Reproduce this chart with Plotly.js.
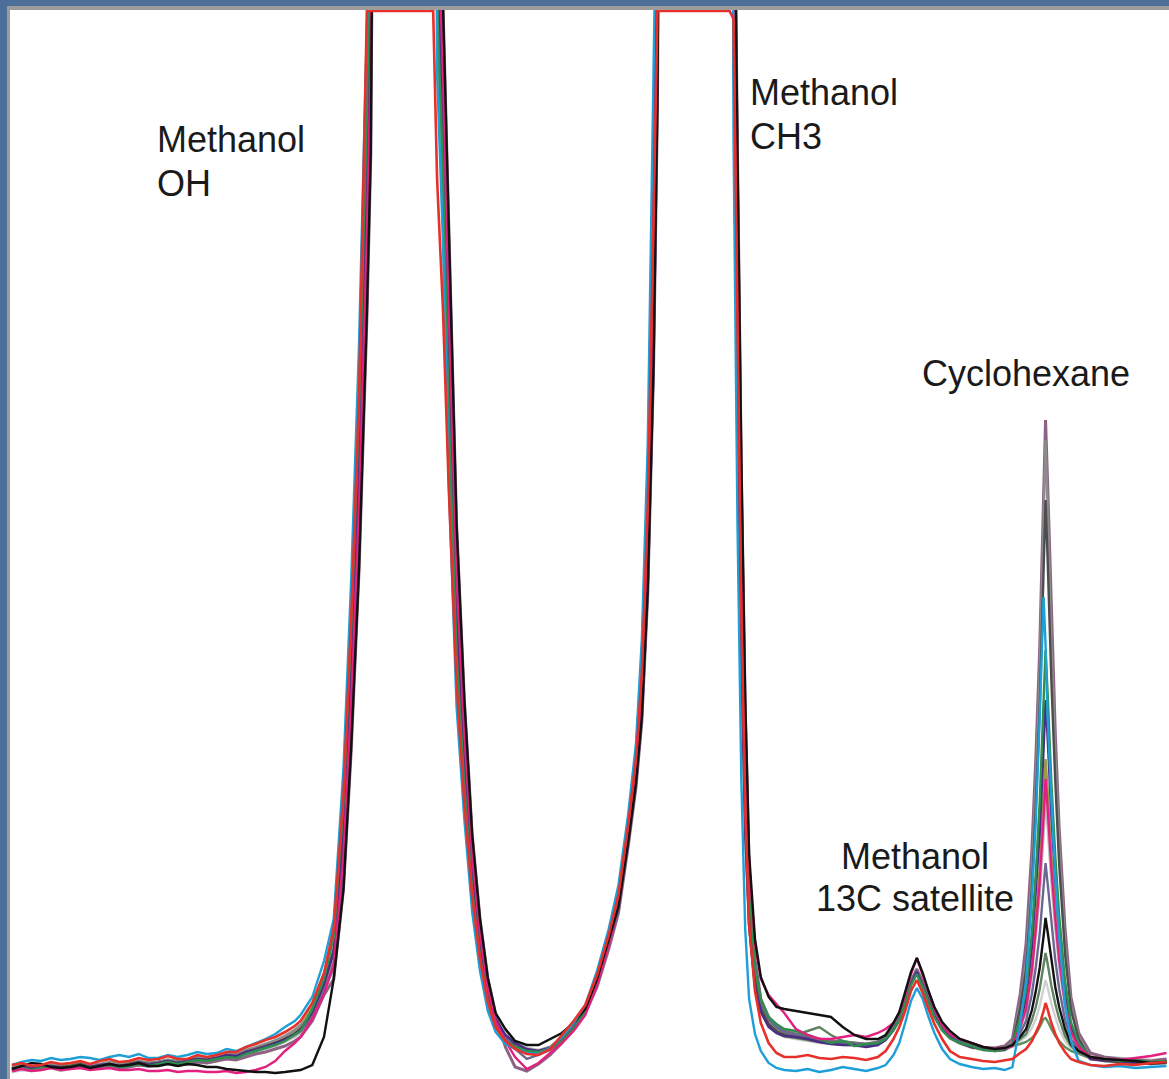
<!DOCTYPE html>
<html><head><meta charset="utf-8">
<script src="https://cdn.plot.ly/plotly-3.0.1.min.js"></script>
<style>html,body{margin:0;padding:0;background:#4b6f99;} #chart{width:1169px;height:1079px;}</style>
</head><body><div id="chart"></div>
<script>
// chemical shift axis (ppm), shared by all spectra
const ppm = [6.80,6.75,6.70,6.65,6.60,6.55,6.50,6.45,6.40,6.35,6.30,6.25,6.20,6.15,6.10,6.05,6.00,5.95,5.90,5.85,5.80,5.75,5.70,5.65,5.60,5.55,5.50,5.45,5.40,5.35,5.32,
 5.26,5.20,5.15,5.10,5.06,5.02,4.98,4.96,
 4.85,4.70,4.64,
 4.62,4.59,4.56,4.52,4.48,4.44,4.40,4.36,4.32,4.27,
 4.22,4.16,4.10,4.04,3.98,3.92,3.86,
 3.80,3.74,3.69,3.64,3.60,3.57,3.54,3.51,3.49,
 3.40,3.25,3.12,
 3.10,3.08,3.06,3.04,3.02,2.99,2.96,2.92,2.88,2.84,
 2.78,2.72,2.66,2.60,2.54,2.48,2.42,2.36,2.32,
 2.28,2.25,2.22,2.19,2.16,2.13,2.10,2.07,2.03,1.99,
 1.94,1.88,1.82,1.76,1.71,1.67,
 1.63,1.60,1.57,1.55,1.53,1.51,1.50,1.49,1.47,1.45,1.43,1.40,1.37,1.33,
 1.27,1.20,1.12,1.04,0.96,0.88];

// intensities of each spectrum (arbitrary units)
const paleGray = [13,15,12,14,16,13,15,17,14,15,18,16,17,19,16,18,20,18,20,23,21,24,26,24,30,31,36,38,44,50,55, 73,104,152,294,478,704,1012,1216, 4000,4000,2500, 1040,872,630,398,276,178,115,73,50,37, 30,26,26,30,39,52,69, 103,144,186,258,326,420,597,889,1190, 4000,4000,2500, 1030,678,418,245,152,92,67,52,46,42, 40,38,36,35,34,33,32,34,39, 48,58,74,93,104,91,75,61,48,40, 35,31,29,28,29,32, 38,42,51,60,73,89,99,92,75,62,50,38,31,26, 20,18,17,16,15,16];
const lightGray = [7,9,8,9,11,8,10,12,10,11,13,11,12,14,12,13,15,13,15,17,16,18,21,20,24,27,30,33,37,42,46, 63,89,110,209,358,544,807,976, 4000,4000,2500, 1215,1042,805,528,361,233,152,96,62,47, 37,31,29,32,40,52,68, 94,132,168,235,294,360,486,712,980, 4000,4000,2500, 1300,924,604,365,207,117,77,58,50,46, 44,42,40,38,37,36,35,37,43, 52,62,77,97,109,95,79,65,52,44, 39,35,32,31,32,36, 50,67,103,140,184,244,279,254,196,150,112,71,45,31, 24,22,21,20,19,20];
const mauve = [8,11,9,10,12,10,11,13,11,12,14,11,12,14,13,14,16,14,15,17,16,18,20,19,22,25,27,30,33,38,42, 58,84,100,190,330,510,760,925, 4000,4000,2600, 1250,1076,840,554,378,244,160,101,65,32, 12,8,15,24,36,50,66, 92,130,166,233,292,358,484,710,975, 4000,4000,2600, 1300,930,610,370,212,120,80,62,52,48, 45,42,40,38,37,36,35,37,42, 52,62,78,98,110,97,80,66,52,44, 38,34,31,31,33,40, 85,135,230,320,430,575,659,600,460,345,250,150,82,46, 26,22,20,19,18,20];
const lowGreen = [12,13,11,12,14,13,14,16,13,14,16,14,15,17,16,17,19,18,19,21,20,22,25,24,28,31,34,37,41,47,52, 71,101,143,277,454,672,971,1168, 4000,4000,2500, 1075,906,665,424,293,189,123,77,52,38, 32,27,27,31,40,53,70, 99,139,179,249,315,400,560,830,1120, 4000,4000,2500, 1120,760,480,285,170,100,70,54,47,43, 41,39,37,36,35,34,33,35,40, 50,60,76,96,108,94,78,64,50,42, 37,33,30,29,30,33, 35,37,41,45,52,60,61,58,50,43,38,32,28,25, 21,19,18,17,16,17];
const grayGreen = [11,12,10,11,13,12,13,15,13,14,16,14,15,17,16,17,19,17,18,20,19,22,24,23,27,30,33,36,40,46,50, 67,95,127,243,406,608,889,1072, 4000,4000,2500, 1145,974,735,476,327,211,137,87,57,41, 32,28,28,32,42,55,72, 97,136,174,243,304,380,523,771,1050, 4000,4000,2500, 1210,842,542,325,189,108,78,60,52,46, 44,48,52,44,38,36,34,36,40, 50,60,76,96,108,94,78,64,50,42, 36,32,30,29,30,34, 40,45,59,72,90,113,126,116,93,75,60,43,33,27, 21,19,18,17,16,17];
const olive = [11,13,12,12,14,13,14,16,14,14,17,15,16,18,15,16,19,17,19,21,20,22,25,24,28,31,34,37,42,48,52, 72,103,150,290,472,698,1005,1210, 4000,4000,2500, 1048,880,636,402,279,180,116,74,51,38, 31,27,27,31,40,54,71, 104,146,188,260,328,424,600,893,1195, 4000,4000,2500, 1036,684,422,248,154,94,68,53,46,43, 42,40,38,37,36,34,33,35,41, 50,60,76,96,108,94,78,64,50,42, 37,33,31,29,30,34, 53,73,115,158,210,279,320,291,223,170,126,78,48,33, 21,19,18,17,16,17];
const gray = [12,14,12,13,15,13,13,15,14,15,17,15,16,18,16,17,19,17,19,22,20,23,25,25,29,32,35,39,43,49,54, 65,92,118,226,382,576,848,1024, 4000,4000,2500, 1180,1008,770,502,344,222,145,91,60,43, 34,29,28,32,41,55,72, 97,136,174,243,304,380,523,771,1050, 4000,4000,2500, 1210,842,542,325,189,108,73,56,48,44, 43,41,39,37,36,35,34,36,41, 51,61,77,97,106,93,77,63,50,43, 38,34,31,30,31,36, 76,117,208,298,408,554,639,578,437,326,234,136,74,42, 22,20,19,18,17,18];
const slate = [10,12,10,11,13,12,13,15,12,13,15,13,15,17,15,16,18,16,18,20,19,21,23,23,27,30,33,36,40,45,50, 66,95,130,250,420,630,920,1110, 4000,4000,2500, 1115,945,710,455,312,203,132,84,56,41, 33,28,26,30,39,52,69, 98,138,178,246,312,396,555,825,1115, 4000,4000,2500, 1125,765,485,288,172,101,71,55,48,44, 42,40,38,36,35,35,33,35,41, 50,60,75,95,107,93,77,63,49,41, 36,32,30,28,29,34, 71,109,190,272,370,502,579,524,397,297,214,125,69,40, 20,18,17,16,15,16];
const purpleGray = [9,11,9,10,12,10,11,13,11,13,14,12,13,15,14,15,17,15,17,19,18,20,22,22,26,29,32,35,39,44,48, 62,88,112,212,360,546,810,980, 4000,4000,2550, 1212,1040,800,525,360,232,151,95,61,42, 30,20,24,29,38,51,68, 95,133,169,236,295,362,488,714,982, 4000,4000,2550, 1296,920,600,362,205,116,77,60,52,47, 44,42,39,37,36,35,34,36,42, 51,61,77,97,109,95,79,65,51,43, 37,33,30,29,30,33, 46,58,85,112,145,190,216,197,154,119,90,59,40,30, 22,20,19,18,17,18];
const purple = [10,12,11,12,13,11,12,14,12,14,15,13,14,16,14,16,18,16,18,20,19,21,24,23,27,29,32,36,40,45,49, 67,95,127,243,406,608,889,1072, 4000,4000,2500, 1145,974,735,476,327,211,137,89,60,44, 36,30,28,31,38,50,67, 103,144,186,258,326,420,597,889,1190, 4000,4000,2500, 1030,678,418,245,152,92,67,52,46,43, 42,40,37,35,34,34,32,34,39, 49,59,75,95,107,93,77,63,50,42, 36,32,30,29,30,34, 57,81,132,184,246,330,379,344,263,199,146,89,53,34, 20,19,18,17,16,17];
const green = [9,11,9,11,12,10,12,14,11,13,14,12,13,15,13,15,17,15,17,19,18,20,22,21,25,28,31,34,38,44,48, 70,100,142,276,452,670,968,1165, 4000,4000,2500, 1075,906,665,424,293,189,123,77,52,38, 32,28,27,30,38,50,68, 97,136,174,243,304,380,523,771,1050, 4000,4000,2500, 1210,842,542,325,189,112,80,62,55,50, 48,44,40,36,38,33,35,36,40, 49,59,75,94,105,92,76,62,49,41, 36,33,29,28,30,35, 61,88,147,206,277,373,429,389,296,223,163,98,57,36, 22,20,18,19,17,18];
const magenta = [8,10,8,9,11,9,10,11,9,10,11,9,9,10,8,8,9,7,8,8,7,7,8,6,7,9,12,18,28,36,42, 60,85,115,222,378,572,845,1020, 4000,4000,2500, 1180,1008,770,502,344,222,145,91,58,38, 22,10,16,26,36,48,64, 94,134,172,241,302,378,520,768,1046, 4000,4000,2600, 1220,860,560,345,215,135,100,84,75,66, 50,44,40,40,42,44,42,46,50, 56,66,84,105,121,104,86,70,54,45, 40,36,32,30,31,33, 52,70,109,149,197,262,300,273,210,160,119,75,47,32, 22,20,19,21,23,26];
const black = [10,13,16,15,12,11,12,14,11,13,15,13,14,16,13,13,15,13,15,14,12,12,10,9,8,7,7,6,7,8,9, 14,42,100,190,334,512,766,928, 4000,4000,2500, 1250,1076,840,554,378,244,160,101,66,50, 38,34,34,40,46,56,70, 100,138,172,237,296,362,488,714,982, 4000,4000,2500, 1300,930,620,380,225,140,102,82,72,70, 68,66,64,62,52,44,40,40,44, 56,67,86,107,121,106,88,72,57,48, 40,36,32,30,31,34, 42,50,69,88,111,143,161,148,117,92,72,50,35,28, 22,20,19,18,16,17];
const cyan = [14,17,19,18,21,19,20,22,21,19,22,24,22,25,21,21,24,22,24,27,25,26,30,28,32,36,40,45,52,58,64, 82,118,160,311,502,736,1053,1264, 4000,4000,2500, 1005,838,595,372,259,167,108,68,47,35, 30,26,25,31,42,56,74, 108,150,194,265,336,440,634,948,1260, 4000,4000,2400, 940,560,300,150,80,45,28,16,11,9, 8,10,7,9,12,10,8,11,14, 24,36,56,78,91,80,62,46,30,20, 15,12,10,11,9,12, 55,98,183,258,361,482,435,364,279,203,142,75,38,18, 14,12,13,11,12,13];
const red = [14,16,13,14,17,15,16,18,15,18,20,17,18,21,19,20,23,20,20,24,22,24,27,27,32,35,39,42,47,53,58, 76,106,150,285,462,685,1068,1068, 1068,1068,1068, 900,770,590,395,275,182,120,77,52,38, 30,25,24,30,44,58,74, 104,144,184,254,320,405,570,860,1068, 1068,1068,1068, 1060,780,470,270,155,88,56,36,26,22, 22,24,21,20,22,21,19,22,28, 40,52,68,88,99,86,70,55,40,28, 22,20,18,17,19,20, 26,30,38,46,55,68,76,70,56,45,36,27,20,17, 14,13,15,14,16,17];

const seriesNames = ['paleGray','lightGray','mauve','lowGreen','grayGreen','olive','gray','slate','purpleGray','purple','green','magenta','black','cyan','red'];
const seriesValues = [paleGray,lightGray,mauve,lowGreen,grayGreen,olive,gray,slate,purpleGray,purple,green,magenta,black,cyan,red];
const seriesColors = ['#d0d0d0','#bdbdbd','#8d6384','#5f8f5f','#5e8262','#9b9a45','#8c8c8c','#4d4d4d','#6b6791','#4b2d83','#2f8f4f','#e3207f','#111111','#1e9fd8','#e8302a'];
const seriesWidths = [2.4,2.4,3,2.4,2.4,2.4,2.4,2.4,2.4,2.4,2.4,2.4,2.4,2.4,2.6];

const labels = [
  {text:'Methanol', x:0.1251, y:0.8784, xa:'left'},
  {text:'OH', x:0.1251, y:0.8377, xa:'left'},
  {text:'Methanol', x:0.6368, y:0.9224, xa:'left'},
  {text:'CH3', x:0.6368, y:0.8817, xa:'left'},
  {text:'Cyclohexane', x:0.7852, y:0.6600, xa:'left'},
  {text:'Methanol', x:0.7808, y:0.2081, xa:'center'},
  {text:'13C satellite', x:0.7808, y:0.1684, xa:'center'}
];

const traces = seriesValues.map((v,i)=>({
  type:'scatter', mode:'lines', x:ppm, y:v, name:seriesNames[i],
  line:{color:seriesColors[i], width:seriesWidths[i]}, hoverinfo:'skip'
}));

const layout = {
  width:1169, height:1079,
  margin:{l:10, r:0, t:10, b:0},
  paper_bgcolor:'#4b6f99', plot_bgcolor:'#ffffff',
  showlegend:false,
  xaxis:{range:[6.81,0.867], visible:false},
  yaxis:{range:[0,1069], visible:false},
  shapes:[
    {type:'rect', xref:'paper', yref:'paper', x0:-3/1159, x1:1, y0:1, y1:1+4/1069, fillcolor:'#9c9c9c', line:{width:0}},
    {type:'rect', xref:'paper', yref:'paper', x0:-3/1159, x1:0, y0:0, y1:1+4/1069, fillcolor:'#9c9c9c', line:{width:0}}
  ],
  annotations: labels.map(l=>({
    xref:'paper', yref:'paper', x:l.x, y:l.y, text:l.text, showarrow:false,
    xanchor:l.xa, yanchor:'middle', align:l.xa,
    font:{family:'Liberation Sans, Arial, sans-serif', size:36, color:'#1a1a1a'}
  }))
};

Plotly.newPlot('chart', traces, layout, {displayModeBar:false, staticPlot:true});
</script>
</body></html>
